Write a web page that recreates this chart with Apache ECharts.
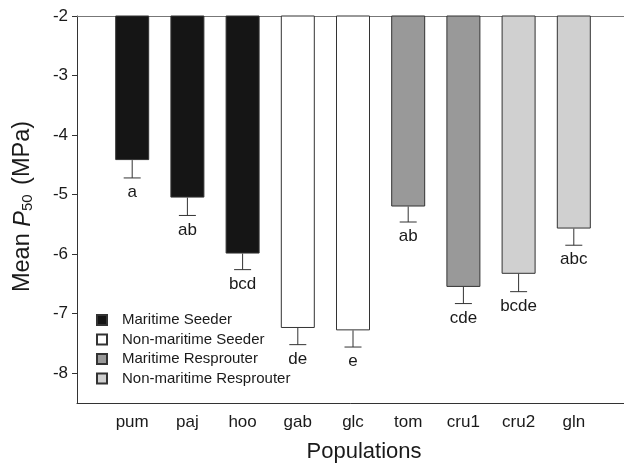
<!DOCTYPE html>
<html lang="en">
<head>
  <meta charset="UTF-8">
  <title>Mean P50 by population</title>
  <script src="https://cdn.jsdelivr.net/npm/echarts@6/dist/echarts.min.js"></script>
  <style>
    html, body { margin: 0; padding: 0; background: #fff; }
    #chart { width: 624px; height: 463px; }
  </style>
</head>
<body>
<div id="chart"></div>
<script>
// populations along the x axis
const categories = ['pum', 'paj', 'hoo', 'gab', 'glc', 'tom', 'cru1', 'cru2', 'gln'];
// mean P50 (MPa) and standard error
const means = [-4.42, -5.05, -5.99, -7.24, -7.28, -5.20, -6.55, -6.33, -5.57];
const errors = [0.30, 0.30, 0.27, 0.28, 0.28, 0.26, 0.28, 0.30, 0.28];
// letters of significance under each bar
const letters = ['a', 'ab', 'bcd', 'de', 'e', 'ab', 'cde', 'bcde', 'abc'];
// group of each population
const groups = ['Maritime Seeder', 'Non-maritime Seeder', 'Maritime Resprouter', 'Non-maritime Resprouter'];
const groupOf = [0, 0, 0, 1, 1, 2, 2, 3, 3];
const groupColors = ['#151515', '#ffffff', '#999999', '#d0d0d0'];
const yTicks = [-8, -7, -6, -5, -4, -3, -2];
const xTicks = categories.map((c, i) => i + 1);

const font = 'Liberation Sans, Arial, sans-serif';
const ink = '#1a1a1a';

// one bar series per group so the legend gets one entry each
const barSeries = groups.map((g, gi) => ({
  name: g,
  type: 'bar',
  barWidth: 34,
  barGap: '-100%',
  data: means.map((m, i) => (groupOf[i] === gi ? [i + 1, m] : null)).filter(d => d),
  itemStyle: { color: groupColors[gi], borderColor: '#333', borderWidth: 1 },
  z: 2
}));

// error bar (downwards only) + letter label
const errSeries = {
  type: 'custom',
  data: means.map((m, i) => [i + 1, m, errors[i]]),
  renderItem: function (params, api) {
    const x = api.value(0), m = api.value(1), se = api.value(2);
    const p0 = api.coord([x, m]);
    const p1 = api.coord([x, m - se]);
    return {
      type: 'group',
      children: [
        { type: 'line', shape: { x1: p0[0], y1: p0[1], x2: p1[0], y2: p1[1] }, style: { stroke: '#333', lineWidth: 1 } },
        { type: 'line', shape: { x1: p1[0] - 8.5, y1: p1[1], x2: p1[0] + 8.5, y2: p1[1] }, style: { stroke: '#333', lineWidth: 1 } },
        { type: 'text', x: p1[0], y: p1[1] + 14.5, style: { text: letters[params.dataIndex], fontSize: 17, fontFamily: font, fill: ink, align: 'center', verticalAlign: 'middle' } }
      ]
    };
  },
  z: 3
};

const option = {
  animation: false,
  textStyle: { fontFamily: font },
  grid: { left: 77, top: 16, width: 552, height: 387, outerBoundsMode: 'none' },
  legend: {
    orient: 'vertical',
    left: 91,
    top: 307.5,
    itemWidth: 10,
    itemHeight: 10,
    itemGap: 4.5,
    icon: 'rect',
    selectedMode: false,
    data: groups,
    textStyle: { fontSize: 15, color: ink, fontFamily: font, padding: [0, 0, 0, 10] }
  },
  xAxis: [{
    type: 'value',
    min: 0,
    max: 10,
    name: 'Populations',
    nameLocation: 'middle',
    nameGap: 38,
    nameTextStyle: { fontSize: 22, color: ink, fontFamily: font, padding: [0, 0, 0, 22] },
    axisLine: { show: true, lineStyle: { color: '#333', width: 1 } },
    axisTick: { show: false },
    splitLine: { show: false },
    axisLabel: {
      customValues: xTicks,
      formatter: v => categories[v - 1] || '',
      fontSize: 17, color: ink, fontFamily: font, margin: 11
    }
  }, {
    type: 'value',
    min: 0,
    max: 10,
    position: 'top',
    axisLine: { show: true, lineStyle: { color: '#777', width: 1 } },
    axisTick: { show: false },
    axisLabel: { show: false },
    splitLine: { show: false }
  }],
  yAxis: {
    type: 'value',
    min: -8.5,
    max: -2,
    name: '{n|Mean }{p|P}{s|50}{n| (MPa)}',
    nameLocation: 'middle',
    nameGap: 42,
    nameTextStyle: {
      padding: [0, 0, 0, 6],
      rich: {
        n: { fontSize: 23.5, color: ink, fontFamily: font },
        p: { fontSize: 23.5, color: ink, fontFamily: font, fontStyle: 'italic' },
        s: { fontSize: 15, color: ink, fontFamily: font, padding: [9, 3, 0, 0] }
      }
    },
    axisLine: { show: true, lineStyle: { color: '#333', width: 1 } },
    axisTick: { show: true, length: 5, customValues: yTicks, lineStyle: { color: '#333' } },
    splitLine: { show: false },
    axisLabel: { customValues: yTicks, fontSize: 17, color: ink, fontFamily: font, margin: 9 }
  },
  series: barSeries.concat([errSeries])
};

const chart = echarts.init(document.getElementById('chart'));
chart.setOption(option);
</script>
</body>
</html>
